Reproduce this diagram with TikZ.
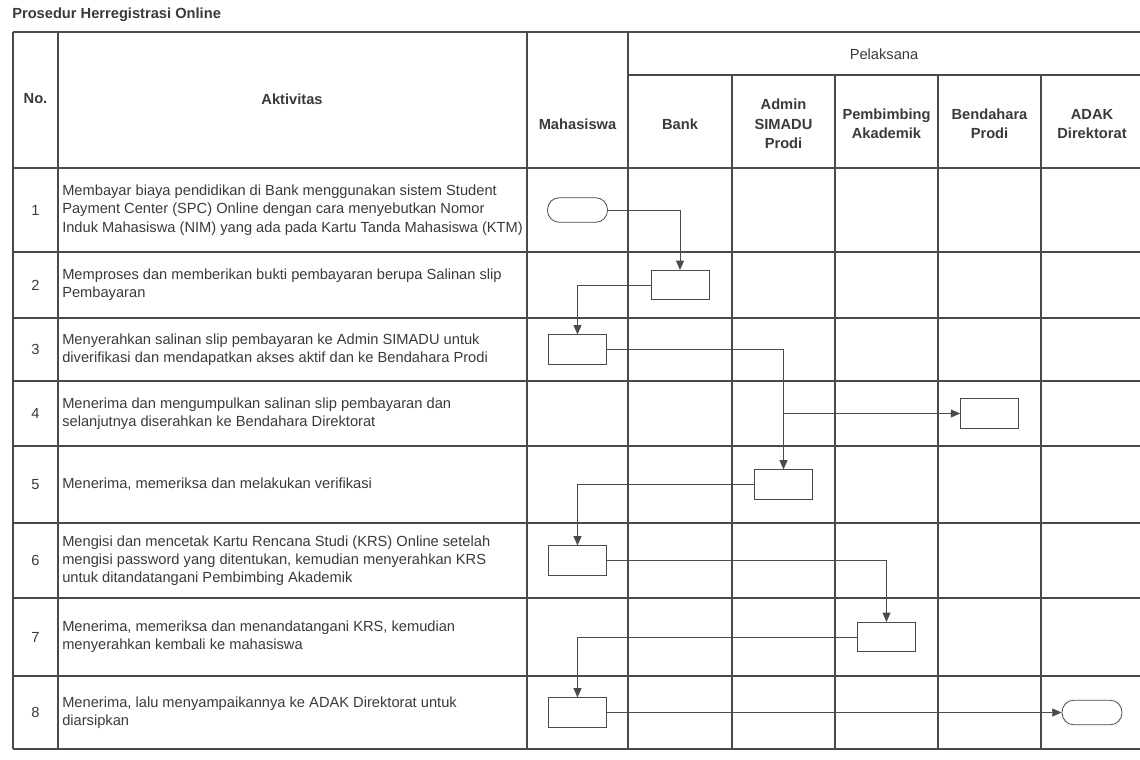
\documentclass[tikz,border=0pt]{standalone}
\usepackage{fontspec}
\setmainfont{Liberation Sans}
\usepackage{xcolor}
\usetikzlibrary{arrows.meta}

\definecolor{ink}{HTML}{3A3A3A}
\definecolor{rule}{HTML}{4A4A4A}

\begin{document}
\begin{tikzpicture}[x=0.75pt,y=-0.75pt,
    font=\fontsize{11}{13.7}\selectfont, text=ink,
    grid/.style={draw=rule, line width=1pt},
    hdr/.style={font=\fontsize{11}{14.6}\selectfont\bfseries, align=center, inner sep=0pt},
    akt/.style={anchor=west, align=left, inner sep=0pt},
    proses/.style={draw=rule, line width=0.6pt, minimum width=43.5pt, minimum height=22pt, inner sep=0pt},
    terminal/.style={proses, minimum width=45pt, minimum height=18.5pt, rounded corners=9pt},
    alur/.style={draw=rule, line width=0.6pt, -{Triangle[length=7pt,width=6pt]}}]

    \useasboundingbox (0,0) rectangle (1140,760);

    \node[anchor=west, inner sep=0pt, font=\fontsize{11}{13.7}\selectfont\bfseries] (judul) at (12,15) {Prosedur Herregistrasi Online};

    % table lines
    \draw[grid] (13,32) -- (1140,32);
    \draw[grid] (628,75) -- (1140,75);
    \foreach \y in {168,252,318,381,446,523,598,676,749}
        \draw[grid] (13,\y) -- (1140,\y);
    \foreach \x in {13,58,527,628}
        \draw[grid] (\x,32) -- (\x,749);
    \foreach \x in {732,835,938,1041}
        \draw[grid] (\x,75) -- (\x,749);

    % header
    \node[hdr] (hno) at (35.5,99) {No.};
    \node[hdr] (hakt) at (292,99) {Aktivitas};
    \node (hpel) at (884,54) {Pelaksana};
    \node[hdr] (hmhs) at (577.5,124) {Mahasiswa};
    \node[hdr] (hbank) at (680,124) {Bank};
    \node[hdr] (hadm) at (783.5,124) {Admin\\SIMADU\\Prodi};
    \node[hdr] (hpa) at (886.5,124) {Pembimbing\\Akademik};
    \node[hdr] (hbp) at (989.5,124) {Bendahara\\Prodi};
    \node[hdr] (hadak) at (1092,124) {ADAK\\Direktorat};

    % row numbers
    \foreach \n/\y in {1/210,2/285,3/349.5,4/413.5,5/484.5,6/560.5,7/637,8/712.5}
        \node (no\n) at (35.5,\y) {\n};

    % activities
    \node[akt] (akt1) at (62,210) {Membayar biaya pendidikan di Bank menggunakan sistem Student\\Payment Center (SPC) Online dengan cara menyebutkan Nomor\\Induk Mahasiswa (NIM) yang ada pada Kartu Tanda Mahasiswa (KTM)};
    \node[akt] (akt2) at (62,285) {Memproses dan memberikan bukti pembayaran berupa Salinan slip\\Pembayaran};
    \node[akt] (akt3) at (62,349.5) {Menyerahkan salinan slip pembayaran ke Admin SIMADU untuk\\diverifikasi dan mendapatkan akses aktif dan ke Bendahara Prodi};
    \node[akt] (akt4) at (62,413.5) {Menerima dan mengumpulkan salinan slip pembayaran dan\\selanjutnya diserahkan ke Bendahara Direktorat};
    \node[akt] (akt5) at (62,484.5) {Menerima, memeriksa dan melakukan verifikasi};
    \node[akt] (akt6) at (62,560.5) {Mengisi dan mencetak Kartu Rencana Studi (KRS) Online setelah\\mengisi password yang ditentukan, kemudian menyerahkan KRS\\untuk ditandatangani Pembimbing Akademik};
    \node[akt] (akt7) at (62,637) {Menerima, memeriksa dan menandatangani KRS, kemudian\\menyerahkan kembali ke mahasiswa};
    \node[akt] (akt8) at (62,712.5) {Menerima, lalu menyampaikannya ke ADAK Direktorat untuk\\diarsipkan};

    % flow shapes
    \node[terminal] (mulai) at (577.5,210) {};
    \node[proses] (a2) at (680,285) {};
    \node[proses] (a3) at (577.5,349.5) {};
    \node[proses] (a4) at (989.5,413.5) {};
    \node[proses] (a5) at (783.5,484.5) {};
    \node[proses] (a6) at (577.5,560.5) {};
    \node[proses] (a7) at (886.5,637) {};
    \node[proses] (a8) at (577.5,712.5) {};
    \node[terminal] (selesai) at (1092,712.5) {};

    % connectors
    \draw[alur] (mulai.east) -| (a2.north);
    \draw[alur] (a2.west) -| (a3.north);
    \draw[alur] (a3.east) -| (a5.north);
    \draw[alur] (a5.north |- a4.west) -- (a4.west);
    \draw[alur] (a5.west) -| (a6.north);
    \draw[alur] (a6.east) -| (a7.north);
    \draw[alur] (a7.west) -| (a8.north);
    \draw[alur] (a8.east) -- (selesai.west);
\end{tikzpicture}
\end{document}
